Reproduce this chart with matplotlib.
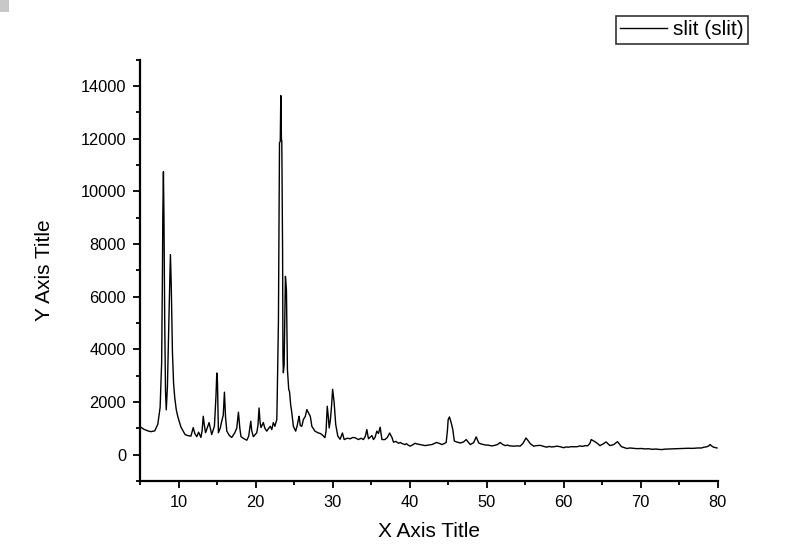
import matplotlib
matplotlib.use("Agg")
import matplotlib.pyplot as plt
from matplotlib.patches import Rectangle
from matplotlib.ticker import MultipleLocator

plt.rcParams['font.family'] = ['Liberation Sans', 'DejaVu Sans']

# XRD pattern (2theta, counts)
two_theta = [5.0, 5.5, 6.0, 6.4, 6.9, 7.3, 7.6, 7.8, 7.9, 7.95, 8.03, 8.1, 8.2, 8.3, 8.4,
             8.55, 8.7, 8.85, 8.94, 9.05, 9.2, 9.35, 9.5, 9.7, 9.9, 10.3, 10.84, 11.2, 11.6,
             11.9, 12.1, 12.36, 12.6, 12.9, 13.05, 13.2, 13.35, 13.5, 13.96, 14.3, 14.65,
             14.85, 14.96, 15.05, 15.17, 15.4, 15.6, 15.8, 15.95, 16.1, 16.26, 16.6, 16.9,
             17.3, 17.55, 17.77, 17.95, 18.1, 18.5, 18.86, 19.1, 19.37, 19.5, 19.7, 20.15,
             20.3, 20.45, 20.58, 20.7, 21.0, 21.2, 21.45, 21.7, 21.9, 22.1, 22.3, 22.5,
             22.75, 22.8, 22.96, 23.1, 23.2, 23.27, 23.35, 23.4, 23.5, 23.55, 23.6, 23.7,
             23.87, 24.0, 24.13, 24.3, 24.4, 24.55, 24.7, 24.9, 25.2, 25.4, 25.55, 25.65,
             25.8, 26.0, 26.2, 26.45, 26.65, 26.85, 27.1, 27.3, 27.7, 28.15, 28.4, 28.6,
             29.0, 29.15, 29.3, 29.45, 29.55, 29.7, 29.85, 30.0, 30.2, 30.4, 30.67, 30.97,
             31.27, 31.5, 31.9, 32.3, 32.6, 32.9, 33.35, 33.7, 34.0, 34.25, 34.44, 34.65,
             35.1, 35.3, 35.5, 35.74, 35.95, 36.17, 36.4, 36.8, 37.1, 37.4, 37.7, 37.9,
             38.2, 38.55, 38.8, 39.0, 39.4, 39.6, 39.8, 40.06, 40.4, 40.7, 41.0, 41.35,
             41.7, 42.0, 42.4, 42.9, 43.2, 43.5, 43.8, 44.2, 44.5, 44.74, 44.9, 45.0,
             45.17, 45.3, 45.4, 45.6, 45.8, 46.2, 46.6, 47.0, 47.34, 47.86, 48.3, 48.64,
             48.97, 49.3, 49.6, 49.9, 50.2, 50.6, 50.9, 51.4, 51.75, 52.1, 52.4, 52.7,
             53.0, 53.5, 54.0, 54.35, 54.7, 55.1, 55.4, 55.65, 56.1, 56.5, 56.95, 57.4,
             57.8, 58.1, 58.4, 58.8, 59.1, 59.5, 60.0, 60.3, 60.6, 61.0, 61.26, 61.8,
             62.1, 62.4, 62.8, 63.1, 63.4, 63.57, 63.8, 64.1, 64.4, 64.7, 65.1, 65.5,
             66.0, 66.5, 66.98, 67.5, 67.9, 68.2, 68.6, 69.0, 69.5, 70.1, 70.5, 71.0,
             71.5, 72.0, 72.4, 72.75, 73.1, 73.5, 74.0, 74.4, 74.9, 75.35, 75.8, 76.2,
             76.6, 77.0, 77.4, 77.9, 78.2, 78.5, 78.8, 79.0, 79.2, 79.45, 79.9]
intensity = [1060, 960, 900, 870, 900, 1150, 1790, 3500, 6800, 9040, 10750, 9000, 5000,
             2400, 1700, 2600, 4600, 6530, 7600, 6400, 3900, 2700, 2160, 1700, 1440, 1050,
             760, 720, 700, 1025, 800, 680, 850, 650, 900, 1455, 1100, 830, 1215, 760,
             1075, 2200, 3100, 2730, 830, 1000, 1265, 1500, 2370, 1400, 890, 720, 650,
             830, 1000, 1610, 1000, 680, 600, 545, 700, 1265, 900, 680, 830, 1100, 1770,
             1215, 1025, 1215, 1000, 890, 1000, 1075, 950, 1215, 1075, 1330, 2090, 5010,
             11850, 11900, 13640, 12000, 11900, 7790, 3735, 3110, 3400, 6770, 6270, 3230,
             2470, 2400, 1900, 1590, 1075, 890, 1100, 1330, 1455, 1100, 1075, 1330, 1450,
             1710, 1590, 1455, 1075, 890, 820, 800, 760, 645, 900, 1835, 1400, 1010, 1300,
             1800, 2480, 1960, 1140, 700, 580, 820, 570, 620, 600, 650, 640, 570, 620, 570,
             700, 950, 600, 720, 570, 650, 890, 800, 1040, 570, 570, 650, 820, 650, 470,
             500, 430, 460, 420, 380, 410, 360, 320, 370, 430, 400, 380,
             360, 340, 360, 380, 420, 460, 430, 380, 420, 460, 900, 1330,
             1430, 1300, 1200, 950, 510, 470, 440, 480, 570, 380, 450, 670,
             440, 400, 380, 360, 360, 330, 340, 380, 460, 380, 340, 360,
             330, 320, 330, 320, 420, 630, 520, 415, 320, 340, 350, 310,
             280, 310, 290, 300, 320, 300, 260, 290, 280, 300, 295, 300,
             330, 310, 340, 330, 420, 570, 530, 480, 420, 340, 400, 480,
             340, 380, 490, 300, 260, 230, 250, 240, 225, 230, 215, 220,
             200, 210, 195, 190, 205, 210, 215, 220, 225, 230, 240, 240,
             235, 240, 250, 250, 280, 290, 320, 380, 330, 280, 250]

fig = plt.figure(figsize=(7.87, 5.54), dpi=100)
ax = fig.add_axes([0.178, 0.132, 0.734, 0.760])

ax.plot(two_theta, intensity, color="black", lw=1.0, label="slit (slit)")

ax.set_xlim(5, 80)
ax.set_ylim(-1000, 15000)
ax.xaxis.set_major_locator(MultipleLocator(10))
ax.xaxis.set_minor_locator(MultipleLocator(5))
ax.yaxis.set_major_locator(MultipleLocator(2000))
ax.yaxis.set_minor_locator(MultipleLocator(1000))

for side in ["top", "right"]:
    ax.spines[side].set_visible(False)
for side in ["left", "bottom"]:
    ax.spines[side].set_linewidth(1.6)

ax.tick_params(which="major", direction="out", length=5, width=1.3, labelsize=11.8, pad=5)
ax.tick_params(which="minor", direction="out", length=3, width=1.3)

ax.set_xlabel("X Axis Title", fontsize=15, labelpad=9)
ax.set_ylabel("Y Axis Title", fontsize=15, labelpad=19)

leg = fig.legend(loc="upper right", bbox_to_anchor=(0.951, 0.972), fontsize=15,
                 frameon=True, fancybox=False, borderpad=0.22, handlelength=2.25,
                 handletextpad=0.3, borderaxespad=0)
leg.get_frame().set_edgecolor("black")
leg.get_frame().set_linewidth(1.2)

# small grey square in the corner
fig.patches.append(Rectangle((0, 1 - 12 / 554), 9 / 787, 12 / 554, transform=fig.transFigure,
                             facecolor="#c8c8c8", edgecolor="none"))

fig.savefig("out.png", dpi=100)
